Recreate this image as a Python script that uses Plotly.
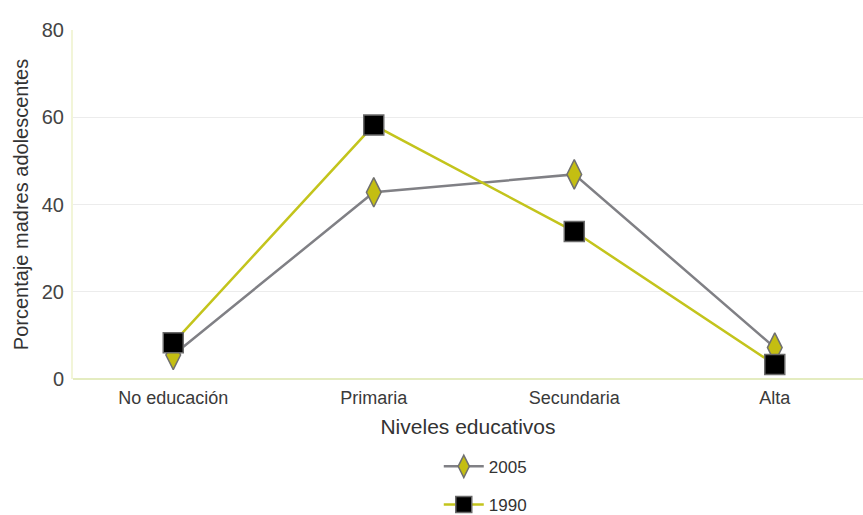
import plotly.graph_objects as go

categories = ["No educación", "Primaria", "Secundaria", "Alta"]
serie_2005 = [5.5, 42.8, 46.9, 7.2]
serie_1990 = [8.3, 58.2, 33.8, 3.3]
y_ticks = [0, 20, 40, 60, 80]

fig = go.Figure()

fig.add_trace(go.Scatter(
    x=list(range(len(categories))), y=serie_2005, name="2005",
    legendgroup="a", mode="lines+markers",
    line=dict(color="#808085", width=2.5),
    marker=dict(symbol="diamond-tall", size=21, color="#c4be12",
                line=dict(color="#707070", width=1.5)),
))
fig.add_trace(go.Scatter(
    x=list(range(len(categories))), y=serie_1990, name="1990",
    legendgroup="b", mode="lines+markers",
    line=dict(color="#c3c41c", width=2.5),
    marker=dict(symbol="square", size=20, color="#000000",
                line=dict(color="#6a6a6a", width=1.5)),
))

fig.update_layout(
    width=863, height=515,
    margin=dict(l=73, r=0, t=30, b=136, autoexpand=False),
    paper_bgcolor="white", plot_bgcolor="white",
    font=dict(family="Liberation Sans, Arial, sans-serif", color="#3a3a3a"),
    showlegend=True,
    legend=dict(x=0.463, y=-0.2, xanchor="left", yanchor="top",
                orientation="v", font=dict(size=17, color="#333"),
                tracegroupgap=13, itemwidth=40, bgcolor="rgba(0,0,0,0)"),
    xaxis=dict(
        tickmode="array", tickvals=list(range(len(categories))),
        ticktext=categories, range=[-0.5, 3.44], automargin=False,
        showgrid=False, zeroline=False, showline=False,
        ticks="outside", ticklen=2, tickcolor="rgba(0,0,0,0)",
        tickfont=dict(size=18, color="#3a3a3a"),
        title=dict(text="Niveles educativos", font=dict(size=21, color="#333"),
                   standoff=12),
    ),
    yaxis=dict(
        range=[0, 80], tickvals=y_ticks, automargin=False,
        showgrid=True, gridcolor="#ececec", gridwidth=1,
        zeroline=True, zerolinecolor="#e4ecc0", zerolinewidth=2,
        showline=True, linecolor="#f2f5d8", linewidth=2,
        ticks="outside", ticklen=3, tickcolor="rgba(0,0,0,0)",
        tickfont=dict(size=20, color="#444",
                      family="Liberation Sans Narrow, Arial Narrow, sans-serif"),
        title=dict(text="Porcentaje madres adolescentes",
                   font=dict(size=20, color="#333"), standoff=8),
    ),
)

fig.write_html("out.html")
